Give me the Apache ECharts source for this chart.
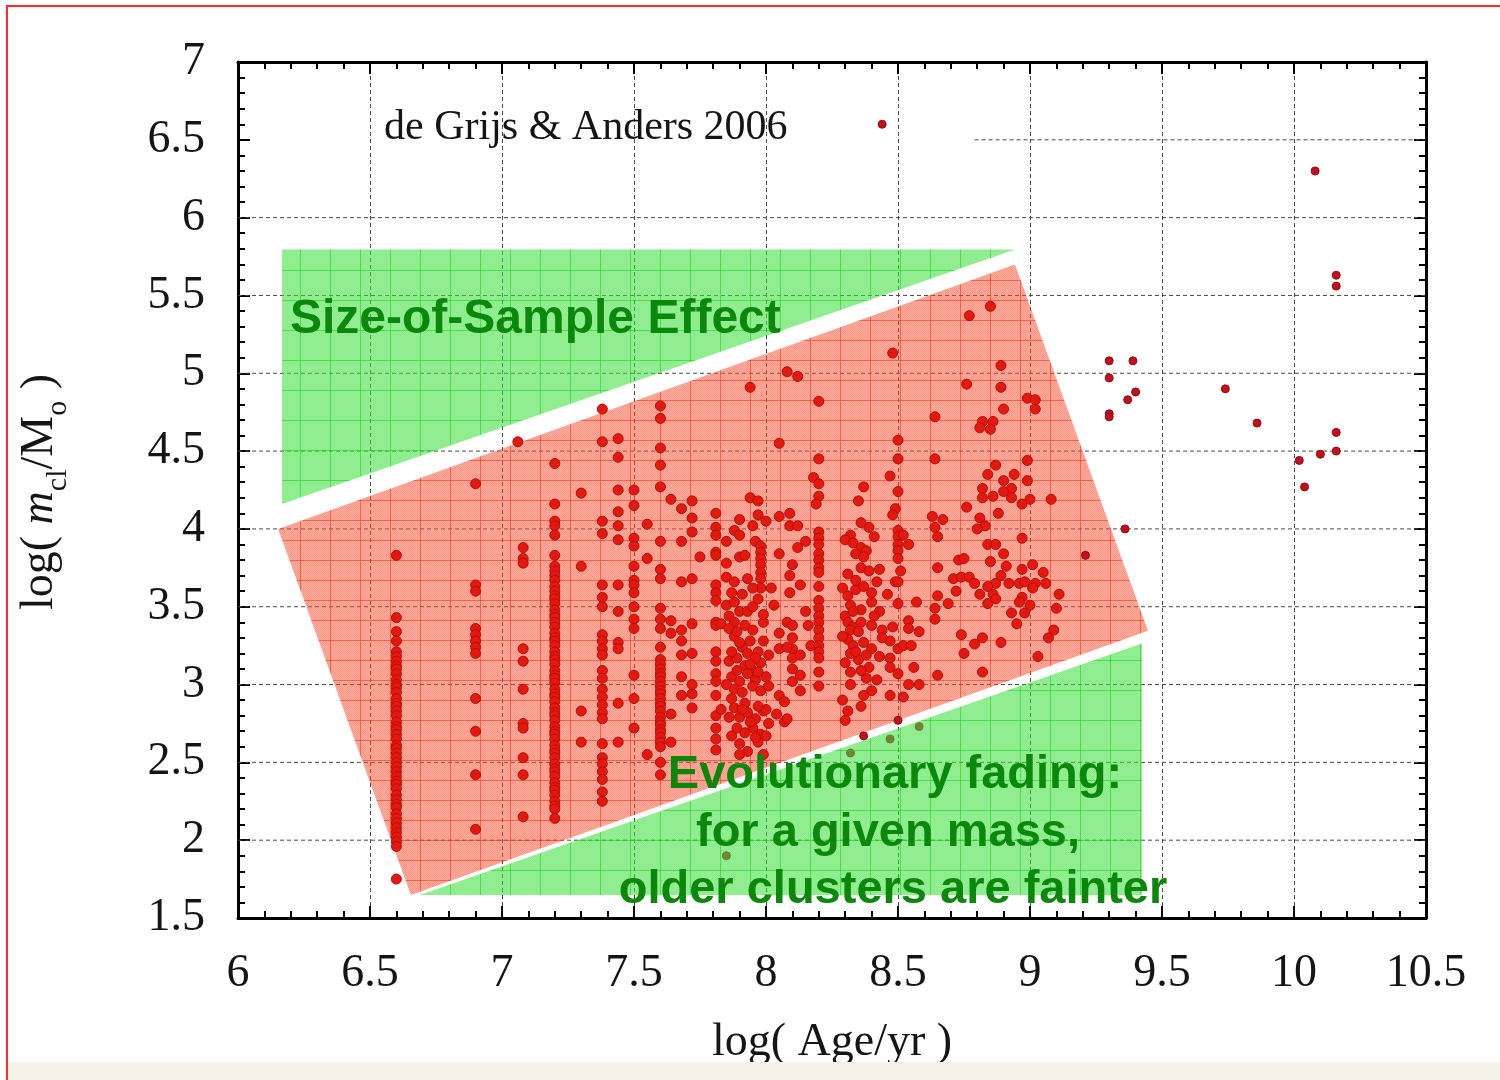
<!DOCTYPE html>
<html>
<head>
<meta charset="utf-8">
<script src="https://cdn.jsdelivr.net/npm/echarts@6/dist/echarts.min.js"></script>
<style>
  html, body { margin: 0; padding: 0; background: #ffffff; }
  #chart { width: 1500px; height: 1080px; }
</style>
</head>
<body>
<div id="chart"></div>
<script>
// ---- axis ranges and ticks ----
const xRange = [6, 10.5];
const yRange = [1.5, 7];
const tickStep = 0.5;
const yGridRows = [2, 2.5, 3, 3.5, 4, 4.5, 5, 5.5, 6, 6.5];
const keyBoxEdge = 8.79;          // the key box hides the 6.5 row left of this age

// ---- star clusters: [log(Age/yr), log(m_cl/M_sun)] ----
const youngClusters = [
  [6.60,3.83],[6.60,3.43],[6.60,3.34],[6.60,3.28],[6.60,3.21],[6.60,3.18],[6.60,3.15],[6.60,3.12],
  [6.60,3.10],[6.60,3.07],[6.60,3.03],[6.60,3.00],[6.60,2.98],[6.60,2.95],[6.60,2.91],[6.60,2.88],
  [6.60,2.86],[6.60,2.83],[6.60,2.80],[6.60,2.76],[6.60,2.73],[6.60,2.71],[6.60,2.68],[6.60,2.65],
  [6.60,2.61],[6.60,2.59],[6.60,2.56],[6.60,2.53],[6.60,2.50],[6.60,2.47],[6.60,2.44],[6.60,2.41],
  [6.60,2.38],[6.60,2.36],[6.60,2.33],[6.60,2.29],[6.60,2.26],[6.60,2.23],[6.60,2.21],[6.60,2.17],
  [6.60,2.14],[6.60,2.11],[6.60,2.08],[6.60,2.05],[6.60,2.02],[6.60,1.99],[6.60,1.96],[6.60,1.75],
  [6.90,4.29],[6.90,3.64],[6.90,3.60],[6.90,3.36],[6.90,3.32],[6.90,3.28],[6.90,3.24],[6.90,3.20],
  [6.90,2.91],[6.90,2.70],[6.90,2.42],[6.90,2.07],
  [7.06,4.56],[7.08,3.88],[7.08,3.81],[7.08,3.78],[7.08,3.23],[7.08,3.15],[7.08,2.97],[7.08,2.75],
  [7.08,2.72],[7.08,2.53],[7.08,2.42],[7.08,2.15],
  [7.20,4.42],[7.20,4.16],[7.20,4.05],[7.20,4.02],[7.20,3.96],[7.20,3.83],[7.20,3.76],[7.20,3.73],
  [7.20,3.70],[7.20,3.67],[7.20,3.63],[7.20,3.60],[7.20,3.57],[7.20,3.55],[7.20,3.52],[7.20,3.48],
  [7.20,3.45],[7.20,3.43],[7.20,3.40],[7.20,3.37],[7.20,3.33],[7.20,3.30],[7.20,3.28],[7.20,3.25],
  [7.20,3.21],[7.20,3.18],[7.20,3.16],[7.20,3.13],[7.20,3.09],[7.20,3.06],[7.20,3.04],[7.20,3.01],
  [7.20,2.97],[7.20,2.94],[7.20,2.92],[7.20,2.89],[7.20,2.85],[7.20,2.82],[7.20,2.80],[7.20,2.77],
  [7.20,2.73],[7.20,2.70],[7.20,2.68],[7.20,2.65],[7.20,2.61],[7.20,2.58],[7.20,2.56],[7.20,2.53],
  [7.20,2.49],[7.20,2.46],[7.20,2.44],[7.20,2.41],[7.20,2.37],[7.20,2.34],[7.20,2.32],[7.20,2.29],
  [7.20,2.25],[7.20,2.22],[7.20,2.20],[7.20,2.14],
  [7.30,4.23],[7.30,3.76],[7.30,2.83],[7.30,2.63],
  [7.38,4.77],[7.38,4.56],[7.38,4.05],[7.38,3.97],[7.38,3.64],[7.38,3.56],[7.38,3.50],[7.38,3.32],
  [7.38,3.28],[7.38,3.23],[7.38,3.19],[7.38,3.09],[7.38,3.04],[7.38,2.97],[7.38,2.92],[7.38,2.87],
  [7.38,2.82],[7.38,2.78],[7.38,2.62],[7.38,2.53],[7.38,2.49],[7.38,2.44],[7.38,2.39],[7.38,2.31],
  [7.38,2.25]
];

const intermediateClusters = [
  [7.44,4.58],[7.44,4.46],[7.44,4.25],[7.44,4.11],[7.44,4.02],[7.44,3.93],[7.44,3.64],[7.44,3.47],
  [7.44,3.27],[7.44,3.23],[7.44,2.88],[7.44,2.63],
  [7.50,4.25],[7.50,4.15],[7.50,3.94],[7.50,3.89],[7.50,3.76],[7.50,3.67],[7.50,3.64],[7.50,3.59],
  [7.50,3.50],[7.50,3.42],[7.50,3.36],[7.50,3.06],[7.50,2.91],[7.50,2.72],
  [7.55,4.03],[7.55,3.81],[7.55,2.55],
  [7.60,4.79],[7.60,4.71],[7.60,4.52],[7.60,4.41],[7.60,4.27],[7.60,3.92],[7.60,3.74],[7.60,3.68],
  [7.60,3.49],[7.60,3.42],[7.60,3.36],[7.60,3.24],[7.60,3.16],[7.60,3.13],[7.60,3.10],[7.60,3.07],
  [7.60,3.05],[7.60,3.02],[7.60,2.99],[7.60,2.96],[7.60,2.94],[7.60,2.91],[7.60,2.88],[7.60,2.86],
  [7.60,2.83],[7.60,2.79],[7.60,2.76],[7.60,2.74],[7.60,2.71],[7.60,2.69],[7.60,2.66],[7.60,2.63],
  [7.60,2.60],[7.60,2.50],[7.60,2.42],
  [7.64,4.19],[7.64,3.41],[7.64,3.33],[7.64,2.81],[7.64,2.63],
  [7.68,4.13],[7.68,3.92],[7.68,3.66],[7.68,3.35],[7.68,3.28],[7.68,3.19],[7.68,3.05],[7.68,2.93],
  [7.72,4.18],[7.72,4.07],[7.72,3.98],[7.72,3.68],[7.72,3.39],[7.72,3.20],[7.72,3.00],[7.72,2.94],
  [7.72,2.85],[7.75,3.82],
  [7.81,4.10],[7.81,4.01],[7.81,3.96],[7.81,3.85],[7.81,3.83],[7.81,3.64],[7.81,3.59],[7.81,3.54],
  [7.81,3.40],[7.81,3.38],[7.81,3.21],[7.81,3.15],[7.81,3.07],[7.81,3.02],[7.81,2.93],[7.81,2.80],
  [7.81,2.72],[7.81,2.65],[7.81,2.58],[7.83,3.39],[7.83,2.84],
  [7.85,3.92],[7.88,3.99],[7.90,4.06],[7.90,3.96],[7.85,3.78],[7.90,3.82],[7.92,3.83],[7.85,3.69],
  [7.88,3.66],[7.93,3.68],[7.96,3.92],[7.95,4.02],[7.97,4.09],[8.00,4.05],[7.94,4.20],[7.97,4.18],
  [7.98,3.89],[7.98,3.85],[7.98,3.81],[7.98,3.77],[7.98,3.72],[7.98,3.68],[7.98,3.62],[8.02,3.62],
  [8.03,3.51],[7.85,3.51],[7.88,3.53],[7.90,3.47],[7.93,3.47],[7.95,3.50],[7.97,3.55],[7.88,3.40],
  [7.88,3.31],[7.91,3.24],[7.94,3.28],[7.97,3.21],[7.99,3.28],[8.05,3.33],[8.05,3.23],[7.86,3.15],
  [7.89,3.17],[7.92,3.12],[7.95,3.09],[7.98,3.14],[7.87,3.05],[7.90,3.02],[7.93,3.07],[7.96,3.03],
  [8.00,3.05],[7.88,2.97],[7.91,2.95],[7.95,2.99],[7.98,2.96],[7.87,2.91],[7.92,2.88],[7.88,2.85],
  [7.90,2.79],[7.93,2.82],[7.96,2.78],[7.99,2.83],[7.89,2.72],[7.95,2.72],[7.98,2.68],[7.90,2.62],
  [7.93,2.57],[7.97,2.63],[7.99,2.55],[7.90,2.55],[8.00,2.67],[8.00,2.84],
  [7.86,3.36],[7.89,3.34],[7.92,3.38],[7.95,3.35],[7.99,3.40],[7.87,3.21],[7.90,3.27],[7.93,3.20],
  [7.96,3.17],[8.01,3.19],[7.85,3.00],[7.89,3.09],[7.94,3.13],[7.97,3.08],[8.01,2.99],[7.86,2.79],
  [7.91,2.84],[7.94,2.76],[7.97,2.86],[8.01,2.75],[7.87,2.67],[7.92,2.69],[7.96,2.66],[7.91,3.58],
  [7.95,3.62],[7.87,3.59],[7.99,3.45],[7.86,3.44],
  [8.07,2.76],[8.08,2.78],[8.09,3.70],[8.09,3.59],[8.10,3.77],[8.05,3.84],[8.09,4.02],[8.12,4.02],
  [8.09,4.10],[8.05,4.08],[8.12,3.88],[8.15,3.92],[8.13,3.64],[8.08,3.40],[8.10,3.38],[8.10,3.30],
  [8.10,3.23],[8.10,3.17],[8.08,3.24],[8.13,3.19],[8.10,3.10],[8.10,3.02],[8.13,3.06],[8.13,2.96],
  [8.15,3.47],[8.16,3.38],[8.17,3.25],[8.05,2.93],[8.04,2.81],[8.07,2.89],
  [7.94,4.91],[8.08,5.01],[8.12,4.98],[8.05,4.55],
  [8.20,4.82],[8.20,4.45],[8.18,4.33],[8.20,4.29],[8.20,4.21],[8.19,4.16],[8.20,3.98],[8.20,3.94],
  [8.20,3.90],[8.20,3.84],[8.20,3.80],[8.20,3.75],[8.20,3.72],[8.20,3.63],[8.20,3.54],[8.20,3.49],
  [8.20,3.44],[8.20,3.40],[8.20,3.35],[8.20,3.30],[8.20,3.25],[8.20,3.21],[8.20,3.17],[8.20,3.08],
  [8.20,2.99]
];

const olderClusters = [
  [8.85,5.43],[8.77,5.37],[8.48,5.13],[8.89,5.05],[8.76,4.93],[8.89,4.91],[8.99,4.84],[9.02,4.83],
  [9.02,4.77],[8.90,4.77],[8.64,4.72],[8.82,4.69],[8.86,4.69],[8.81,4.65],[8.85,4.64],[8.50,4.57],
  [8.50,4.45],[8.64,4.45],[8.99,4.44],[8.47,4.34],[8.87,4.41],[8.84,4.35],[8.94,4.35],[8.99,4.31],
  [8.37,4.27],[8.50,4.24],[8.90,4.31],[8.82,4.26],[8.93,4.26],[8.90,4.24],[8.82,4.20],[8.86,4.21],
  [8.93,4.20],[9.00,4.19],[9.08,4.19],[8.97,4.16],[8.35,4.18],[8.49,4.13],[8.48,4.09],[8.76,4.14],
  [8.88,4.10],[8.63,4.08],[8.67,4.06],[8.81,4.07],[8.64,4.01],[8.83,4.02],[8.80,4.00],[8.36,4.04],
  [8.39,4.01],[8.65,3.95],[8.32,3.96],[8.41,3.95],[8.30,3.93],
  [8.50,3.99],[8.50,3.95],[8.50,3.90],[8.50,3.86],[8.50,3.81],[8.52,3.96],[8.54,3.90],
  [8.33,3.91],[8.36,3.88],[8.38,3.86],[8.34,3.84],[8.37,3.82],
  [8.97,3.94],[8.84,3.90],[8.87,3.90],[8.90,3.84],[8.73,3.80],[8.75,3.81],[8.85,3.79],[8.65,3.75],
  [9.01,3.77],[8.97,3.74],[8.91,3.76],[9.05,3.72],[8.31,3.71],[8.36,3.75],[8.39,3.73],[8.43,3.74],
  [8.51,3.73],[8.71,3.68],[8.74,3.69],[8.77,3.69],[8.79,3.65],[8.89,3.70],[8.92,3.65],[8.96,3.65],
  [8.98,3.66],[9.02,3.65],[9.06,3.65],[8.87,3.65],[8.84,3.63],[8.49,3.66],[8.50,3.66],[8.34,3.61],
  [8.46,3.58],[8.72,3.60],[8.81,3.58],[8.86,3.58],[9.01,3.62],[9.11,3.58],[8.65,3.57],[8.97,3.56],
  [8.32,3.51],[8.40,3.53],[8.50,3.52],[8.57,3.53],[8.69,3.52],[8.84,3.52],[8.87,3.55],[8.96,3.53],
  [9.00,3.51],[8.64,3.49],[9.10,3.49],[8.36,3.48],[8.43,3.47],[8.30,3.44],[8.93,3.46],[8.98,3.46],
  [8.64,3.42],[8.54,3.41],[8.95,3.39],
  [8.31,3.40],[8.33,3.37],[8.36,3.40],[8.40,3.38],[8.32,3.35],[8.35,3.34],
  [8.44,3.35],[8.48,3.37],[8.54,3.36],[8.58,3.34],[9.09,3.35],[8.74,3.32],[8.82,3.30],[8.79,3.26],
  [8.89,3.27],[9.07,3.30],
  [8.31,3.29],[8.33,3.25],[8.37,3.27],[8.40,3.23],[8.32,3.20],[8.35,3.16],[8.38,3.19],
  [8.47,3.28],[8.50,3.23],[8.52,3.25],[8.55,3.25],[8.75,3.20],[9.03,3.18],[8.47,3.17],[8.56,3.11],
  [8.39,3.11],[8.82,3.08],[8.47,3.11],[8.50,3.07],[8.65,3.06],[8.32,3.08],[8.38,3.04],[8.32,3.00],
  [8.54,3.00],[8.58,3.00],[8.40,2.96],[8.47,2.93],[8.52,2.92],[8.37,2.93],[8.36,2.86],[8.31,2.83],
  [8.30,2.77],
  [8.29,3.62],[8.31,3.57],[8.34,3.67],[8.37,3.63],[8.40,3.59],[8.42,3.66],[8.29,3.31],[8.33,3.47],
  [8.41,3.44],[8.44,3.30],[8.30,3.14],[8.34,3.21],[8.43,3.18],[8.36,3.09],[8.42,3.03],[8.29,2.90]
];

const outlyingClusters = [
  [8.44,6.60],[10.08,6.30],[10.16,5.63],[10.16,5.56],[9.30,5.08],[9.39,5.08],[9.30,4.97],[9.40,4.88],
  [9.37,4.83],[9.30,4.74],[9.30,4.72],[9.74,4.90],[9.86,4.68],[10.16,4.62],[10.16,4.50],[10.10,4.48],
  [10.02,4.44],[10.04,4.27],[9.36,4.00],[9.21,3.83],
  [8.37,2.67],[8.50,2.77],[8.58,2.73],[8.47,2.65],[8.32,2.56],[7.85,1.90]
];

// ---- shaded zones (polygon corners in data units) ----
const sampleEffectZone = [[6.167,5.795],[8.943,5.795],[6.167,4.160]];
const detectionZone    = [[6.152,4.000],[8.943,5.699],[9.447,3.346],[6.655,1.647]];
const fadingZone       = [[6.689,1.647],[9.424,3.263],[9.424,1.647]];

// ---- texture tiles for the shaded zones ----
function tile(w, h, base, dither, rule) {
  const c = document.createElement('canvas');
  c.width = w; c.height = h;
  const g = c.getContext('2d');
  g.fillStyle = base; g.fillRect(0, 0, w, h);
  g.fillStyle = dither;
  for (let j = 0; j < h; j++) for (let i = j % 2; i < w; i += 2) g.fillRect(i, j, 1, 1);
  g.fillStyle = rule;
  g.fillRect(0, 0, w, 1);
  g.fillRect(0, 0, 1, h);
  return c;
}
const redTile = tile(30, 20, 'rgba(250,82,52,0.50)', 'rgba(235,50,25,0.10)', 'rgba(240,45,15,0.55)');
const greenTile = tile(30, 30, 'rgba(62,226,62,0.55)', 'rgba(30,190,30,0.08)', 'rgba(25,205,25,0.55)');

// zLevel: red zone sits beneath the clusters, green zones lie over them
function zoneSeries(name, corners, pattern, zLevel) {
  return {
    type: 'custom', name: name, coordinateSystem: 'cartesian2d',
    data: corners, encode: { x: 0, y: 1 }, silent: true, clip: false, z: zLevel,
    renderItem: function (params, api) {
      if (params.dataIndex !== 0) return null;
      return {
        type: 'polygon',
        shape: { points: corners.map(function (p) { return api.coord(p); }) },
        style: { fill: { image: pattern, repeat: 'repeat' }, stroke: null }
      };
    }
  };
}

function clusterSeries(name, pts, size, fill, rim) {
  return {
    type: 'scatter', name: name, data: pts, z: 3, symbol: 'circle', symbolSize: size,
    itemStyle: { color: fill, borderColor: rim, borderWidth: 1, opacity: 1 },
    silent: true
  };
}

const serif = 'Liberation Serif, Times New Roman, serif';
const sans = 'Liberation Sans, Arial, sans-serif';
const ink = '#151515';
const labelGreen = '#0b870b';

const axisBase = {
  type: 'value', min: xRange[0], max: xRange[1], interval: tickStep,
  axisLine: { show: true, onZero: false, lineStyle: { color: '#000', width: 3 } },
  axisTick: { show: true, inside: true, length: 12, lineStyle: { color: '#000', width: 2 } },
  minorTick: { show: true, splitNumber: 5, length: 7, lineStyle: { color: '#000', width: 2 } },
  splitLine: { show: false }, minorSplitLine: { show: false }
};

const chart = echarts.init(document.getElementById('chart'), null, { renderer: 'canvas' });

chart.setOption({
  animation: false,
  backgroundColor: '#ffffff',
  grid: { left: 238, top: 62, width: 1188, height: 856, containLabel: false },
  xAxis: [
    Object.assign({}, axisBase, {
      position: 'bottom',
      axisLabel: { show: true, margin: 33, fontSize: 46, fontFamily: serif, color: ink },
      splitLine: { show: true, lineStyle: { color: '#4a4a4a', width: 1, type: [4, 3] } },
      name: 'log( Age/yr )', nameLocation: 'middle', nameGap: 102,
      nameTextStyle: { fontSize: 46, fontFamily: serif, color: ink }
    }),
    Object.assign({}, axisBase, { position: 'top', axisLabel: { show: false } })
  ],
  yAxis: [
    Object.assign({}, axisBase, {
      min: yRange[0], max: yRange[1], position: 'left',
      axisLabel: { show: true, margin: 33, fontSize: 46, fontFamily: serif, color: ink }
    }),
    Object.assign({}, axisBase, {
      min: yRange[0], max: yRange[1], position: 'right', axisLabel: { show: false }
    })
  ],
  series: [
    {
      type: 'custom', name: 'rows', coordinateSystem: 'cartesian2d', silent: true, z: 1,
      data: yGridRows.map(function (v) { return [v === 6.5 ? keyBoxEdge : xRange[0], v]; }),
      encode: { x: 0, y: 1 },
      renderItem: function (params, api) {
        const a = api.coord([api.value(0), api.value(1)]);
        const b = api.coord([xRange[1], api.value(1)]);
        return {
          type: 'line', shape: { x1: a[0], y1: a[1], x2: b[0], y2: b[1] },
          style: { stroke: '#4a4a4a', lineWidth: 1, lineDash: [4, 3] }
        };
      }
    },
    zoneSeries('detected', detectionZone, redTile, 2),
    clusterSeries('young', youngClusters, 10, '#e3190f', '#b80d0b'),
    clusterSeries('intermediate', intermediateClusters, 10, '#e3190f', '#b80d0b'),
    clusterSeries('older', olderClusters, 10, '#e3190f', '#b80d0b'),
    clusterSeries('outlying', outlyingClusters, 8, '#c4101e', '#8f0a14'),
    zoneSeries('size-of-sample', sampleEffectZone, greenTile, 4),
    zoneSeries('fading', fadingZone, greenTile, 4)
  ],
  graphic: [
    { type: 'rect', z: 100, silent: true, shape: { x: 8, y: 1062, width: 1492, height: 18 },
      style: { fill: '#f5f2ea' } },
    { type: 'rect', z: 101, silent: true, shape: { x: 7, y: 6, width: 1500, height: 1080 },
      style: { fill: null, stroke: '#ff2a2a', lineWidth: 2 } },
    { type: 'text', z: 100, silent: true, x: 384, y: 128,
      style: { text: 'de Grijs & Anders 2006', fontSize: 42, fontFamily: serif, fill: ink,
               align: 'left', verticalAlign: 'middle' } },
    { type: 'text', z: 100, silent: true, x: 40, y: 492, rotation: Math.PI / 2,
      style: {
        text: '{n|log( }{i|m}{s|cl}{n|/M}{s|o}{n| )}', align: 'center', verticalAlign: 'middle',
        fill: ink,
        rich: {
          n: { fontSize: 46, fontFamily: serif, lineHeight: 66, fill: ink },
          i: { fontSize: 46, fontFamily: serif, fontStyle: 'italic', lineHeight: 66, fill: ink },
          s: { fontSize: 30, fontFamily: serif, lineHeight: 30, verticalAlign: 'bottom', fill: ink }
        }
      } },
    { type: 'text', z: 100, silent: true, x: 290, y: 320,
      style: { text: 'Size-of-Sample Effect', fontSize: 48, fontWeight: 'bold', fontFamily: sans,
               fill: labelGreen, align: 'left', verticalAlign: 'middle' } },
    { type: 'text', z: 100, silent: true, x: 895, y: 775,
      style: { text: 'Evolutionary fading:', fontSize: 47, fontWeight: 'bold', fontFamily: sans,
               fill: labelGreen, align: 'center', verticalAlign: 'middle' } },
    { type: 'text', z: 100, silent: true, x: 888, y: 833,
      style: { text: 'for a given mass,', fontSize: 47, fontWeight: 'bold', fontFamily: sans,
               fill: labelGreen, align: 'center', verticalAlign: 'middle' } },
    { type: 'text', z: 100, silent: true, x: 893, y: 890,
      style: { text: 'older clusters are fainter', fontSize: 47, fontWeight: 'bold', fontFamily: sans,
               fill: labelGreen, align: 'center', verticalAlign: 'middle' } }
  ]
});
</script>
</body>
</html>
